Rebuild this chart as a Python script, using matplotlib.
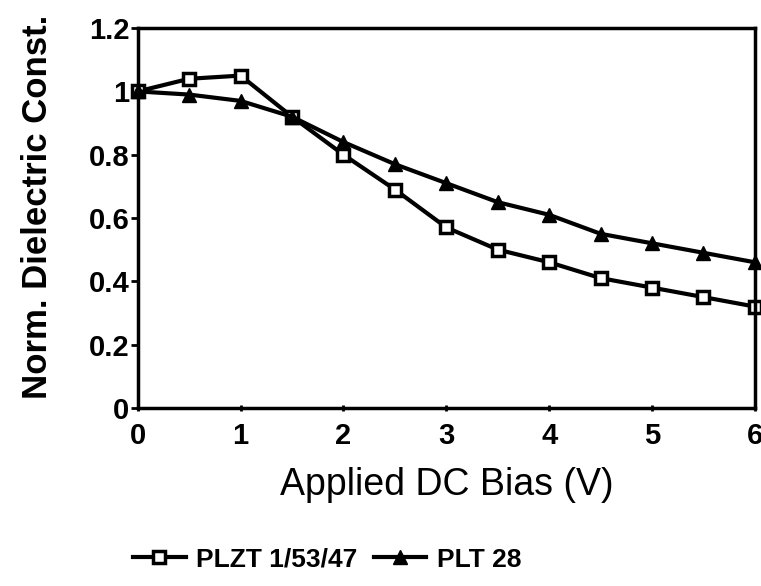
import matplotlib
matplotlib.use("Agg")
import matplotlib.pyplot as plt

# bias voltage and normalised dielectric constant for the two films
bias = [0, 0.5, 1, 1.5, 2, 2.5, 3, 3.5, 4, 4.5, 5, 5.5, 6]
plzt = [1.0, 1.04, 1.05, 0.92, 0.80, 0.69, 0.57, 0.50, 0.46, 0.41, 0.38, 0.35, 0.32]
plt28 = [1.0, 0.99, 0.97, 0.92, 0.84, 0.77, 0.71, 0.65, 0.61, 0.55, 0.52, 0.49, 0.46]

xticks = [0, 1, 2, 3, 4, 5, 6]
yticks = [0, 0.2, 0.4, 0.6, 0.8, 1, 1.2]
ytick_labels = ["0", "0.2", "0.4", "0.6", "0.8", "1", "1.2"]

plt.rcParams["font.family"] = ["Liberation Sans", "DejaVu Sans"]

fig = plt.figure(figsize=(7.61, 5.86), dpi=100)
ax = fig.add_axes([0.181, 0.304, 0.811, 0.648])

ax.plot(bias, plzt, color="black", lw=3, marker="s", ms=8,
        mfc="white", mec="black", mew=2.5, label="PLZT 1/53/47", clip_on=False)
ax.plot(bias, plt28, color="black", lw=3, marker="^", ms=10,
        mfc="black", mec="black", label="PLT 28", clip_on=False)

ax.set_xlim(0, 6)
ax.set_ylim(0, 1.2)
ax.set_xticks(xticks)
ax.set_xticklabels([str(t) for t in xticks])
ax.set_yticks(yticks)
ax.set_yticklabels(ytick_labels)
ax.tick_params(axis="both", labelsize=21, width=2, length=5)
ax.tick_params(axis="x", direction="inout", pad=8)
ax.tick_params(axis="y", pad=1)
for lab in ax.get_xticklabels() + ax.get_yticklabels():
    lab.set_fontweight("bold")
for sp in ax.spines.values():
    sp.set_linewidth(2.5)

ax.set_xlabel("Applied DC Bias (V)", fontsize=27, labelpad=12)
ax.set_ylabel("Norm. Dielectric Const.", fontsize=25, fontweight="bold")
ax.yaxis.set_label_coords(-0.135, 0.53)

leg = fig.legend(loc="center", bbox_to_anchor=(0.43, 0.045), ncol=2, frameon=False,
                 handlelength=2.0, columnspacing=0.6, handletextpad=0.4,
                 prop={"weight": "bold", "size": 19})

fig.savefig("out.png", dpi=100, facecolor="white")
